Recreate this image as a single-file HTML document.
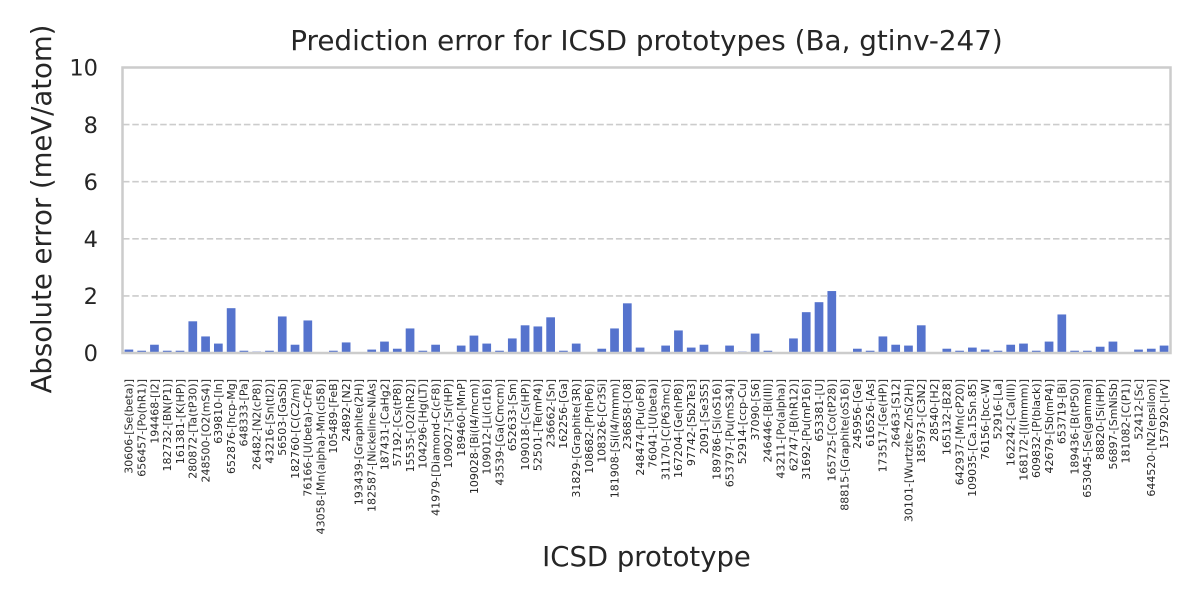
<!DOCTYPE html>
<html><head><meta charset="utf-8">
<style>
html,body{margin:0;padding:0;background:#fff;}
svg{display:block;font-family:"DejaVu Sans","Liberation Sans",sans-serif;}
.xl{font-size:11px;fill:#262626;}
.yt{font-size:22.5px;fill:#262626;}
</style></head>
<body>
<svg width="1200" height="600" viewBox="0 0 1200 600" xmlns="http://www.w3.org/2000/svg">
<rect width="1200" height="600" fill="#fff"/>
<!-- grid -->
<g stroke="#cccccc" stroke-width="1.6" stroke-dasharray="6.5 2.8" fill="none">
<line x1="123" y1="295.9" x2="1170" y2="295.9"/>
<line x1="123" y1="238.8" x2="1170" y2="238.8"/>
<line x1="123" y1="181.7" x2="1170" y2="181.7"/>
<line x1="123" y1="124.6" x2="1170" y2="124.6"/>
</g>
<!-- bars -->
<g fill="#5573cd" transform="translate(0,353) scale(1,-28.55)">
<rect x="124.54" y="0" width="8.7" height="0.12"/>
<rect x="137.32" y="0" width="8.7" height="0.08"/>
<rect x="150.10" y="0" width="8.7" height="0.29"/>
<rect x="162.88" y="0" width="8.7" height="0.08"/>
<rect x="175.66" y="0" width="8.7" height="0.08"/>
<rect x="188.44" y="0" width="8.7" height="1.11"/>
<rect x="201.22" y="0" width="8.7" height="0.58"/>
<rect x="214.00" y="0" width="8.7" height="0.33"/>
<rect x="226.78" y="0" width="8.7" height="1.57"/>
<rect x="239.56" y="0" width="8.7" height="0.08"/>
<rect x="252.34" y="0" width="8.7" height="0.05"/>
<rect x="265.12" y="0" width="8.7" height="0.08"/>
<rect x="277.90" y="0" width="8.7" height="1.28"/>
<rect x="290.68" y="0" width="8.7" height="0.29"/>
<rect x="303.46" y="0" width="8.7" height="1.14"/>
<rect x="329.02" y="0" width="8.7" height="0.08"/>
<rect x="341.80" y="0" width="8.7" height="0.37"/>
<rect x="367.36" y="0" width="8.7" height="0.12"/>
<rect x="380.14" y="0" width="8.7" height="0.40"/>
<rect x="392.92" y="0" width="8.7" height="0.15"/>
<rect x="405.70" y="0" width="8.7" height="0.86"/>
<rect x="418.48" y="0" width="8.7" height="0.08"/>
<rect x="431.26" y="0" width="8.7" height="0.29"/>
<rect x="456.82" y="0" width="8.7" height="0.26"/>
<rect x="469.60" y="0" width="8.7" height="0.61"/>
<rect x="482.38" y="0" width="8.7" height="0.33"/>
<rect x="495.16" y="0" width="8.7" height="0.08"/>
<rect x="507.94" y="0" width="8.7" height="0.51"/>
<rect x="520.72" y="0" width="8.7" height="0.97"/>
<rect x="533.50" y="0" width="8.7" height="0.93"/>
<rect x="546.28" y="0" width="8.7" height="1.25"/>
<rect x="559.06" y="0" width="8.7" height="0.08"/>
<rect x="571.84" y="0" width="8.7" height="0.33"/>
<rect x="597.40" y="0" width="8.7" height="0.15"/>
<rect x="610.18" y="0" width="8.7" height="0.86"/>
<rect x="622.96" y="0" width="8.7" height="1.74"/>
<rect x="635.74" y="0" width="8.7" height="0.19"/>
<rect x="661.30" y="0" width="8.7" height="0.26"/>
<rect x="674.08" y="0" width="8.7" height="0.79"/>
<rect x="686.86" y="0" width="8.7" height="0.19"/>
<rect x="699.64" y="0" width="8.7" height="0.29"/>
<rect x="725.20" y="0" width="8.7" height="0.26"/>
<rect x="737.98" y="0" width="8.7" height="0.05"/>
<rect x="750.76" y="0" width="8.7" height="0.68"/>
<rect x="763.54" y="0" width="8.7" height="0.08"/>
<rect x="789.10" y="0" width="8.7" height="0.51"/>
<rect x="801.88" y="0" width="8.7" height="1.43"/>
<rect x="814.66" y="0" width="8.7" height="1.78"/>
<rect x="827.44" y="0" width="8.7" height="2.17"/>
<rect x="853.00" y="0" width="8.7" height="0.15"/>
<rect x="865.78" y="0" width="8.7" height="0.08"/>
<rect x="878.56" y="0" width="8.7" height="0.58"/>
<rect x="891.34" y="0" width="8.7" height="0.29"/>
<rect x="904.12" y="0" width="8.7" height="0.26"/>
<rect x="916.90" y="0" width="8.7" height="0.97"/>
<rect x="942.46" y="0" width="8.7" height="0.15"/>
<rect x="955.24" y="0" width="8.7" height="0.08"/>
<rect x="968.02" y="0" width="8.7" height="0.19"/>
<rect x="980.80" y="0" width="8.7" height="0.12"/>
<rect x="993.58" y="0" width="8.7" height="0.08"/>
<rect x="1006.36" y="0" width="8.7" height="0.29"/>
<rect x="1019.14" y="0" width="8.7" height="0.33"/>
<rect x="1031.92" y="0" width="8.7" height="0.08"/>
<rect x="1044.70" y="0" width="8.7" height="0.40"/>
<rect x="1057.48" y="0" width="8.7" height="1.35"/>
<rect x="1070.26" y="0" width="8.7" height="0.08"/>
<rect x="1083.04" y="0" width="8.7" height="0.08"/>
<rect x="1095.82" y="0" width="8.7" height="0.22"/>
<rect x="1108.60" y="0" width="8.7" height="0.40"/>
<rect x="1134.16" y="0" width="8.7" height="0.12"/>
<rect x="1146.94" y="0" width="8.7" height="0.15"/>
<rect x="1159.72" y="0" width="8.7" height="0.26"/>
</g>
<!-- frame -->
<rect x="122.5" y="67.5" width="1048" height="285.5" fill="none" stroke="#cccccc" stroke-width="2.5"/>
<!-- y ticks -->
<g class="yt" text-anchor="end">
<text x="98" y="361">0</text>
<text x="98" y="304">2</text>
<text x="98" y="247">4</text>
<text x="98" y="190">6</text>
<text x="98" y="133">8</text>
<text x="98" y="75.5">10</text>
</g>
<!-- title & axis labels -->
<text x="646.5" y="50" text-anchor="middle" font-size="27.8" fill="#262626">Prediction error for ICSD prototypes (Ba, gtinv-247)</text>
<text x="646.5" y="566" text-anchor="middle" font-size="27.5" fill="#262626">ICSD prototype</text>
<text transform="translate(51,209) rotate(-90)" text-anchor="middle" font-size="27.5" fill="#262626">Absolute error (meV/atom)</text>
<!-- x tick labels -->
<g class="xl" text-anchor="end">
<text transform="translate(132.7,379) rotate(-90)">30606-[Se(beta)]</text>
<text transform="translate(145.5,379) rotate(-90)">656457-[Po(hR1)]</text>
<text transform="translate(158.3,379) rotate(-90)">194468-[I2]</text>
<text transform="translate(171.0,379) rotate(-90)">182732-[BN(P1)]</text>
<text transform="translate(183.8,379) rotate(-90)">161381-[K(HP)]</text>
<text transform="translate(196.6,379) rotate(-90)">280872-[Ta(tP30)]</text>
<text transform="translate(209.4,379) rotate(-90)">248500-[O2(mS4)]</text>
<text transform="translate(222.2,379) rotate(-90)">639810-[In]</text>
<text transform="translate(234.9,379) rotate(-90)">652876-[hcp-Mg]</text>
<text transform="translate(247.7,379) rotate(-90)">648333-[Pa]</text>
<text transform="translate(260.5,379) rotate(-90)">26482-[N2(cP8)]</text>
<text transform="translate(273.3,379) rotate(-90)">43216-[Sn(tI2)]</text>
<text transform="translate(286.1,379) rotate(-90)">56503-[GaSb]</text>
<text transform="translate(298.8,379) rotate(-90)">182760-[C(C2/m)]</text>
<text transform="translate(311.6,379) rotate(-90)">76166-[U(beta)-CrFe]</text>
<text transform="translate(324.4,379) rotate(-90)">43058-[Mn(alpha)-Mn(cI58)]</text>
<text transform="translate(337.2,379) rotate(-90)">105489-[FeB]</text>
<text transform="translate(350.0,379) rotate(-90)">24892-[N2]</text>
<text transform="translate(362.7,379) rotate(-90)">193439-[Graphite(2H)]</text>
<text transform="translate(375.5,379) rotate(-90)">182587-[Nickeline-NiAs]</text>
<text transform="translate(388.3,379) rotate(-90)">187431-[CaHg2]</text>
<text transform="translate(401.1,379) rotate(-90)">57192-[Cs(tP8)]</text>
<text transform="translate(413.9,379) rotate(-90)">15535-[O2(hR2)]</text>
<text transform="translate(426.6,379) rotate(-90)">104296-[Hg(LT)]</text>
<text transform="translate(439.4,379) rotate(-90)">41979-[Diamond-C(cF8)]</text>
<text transform="translate(452.2,379) rotate(-90)">109027-[Sr(HP)]</text>
<text transform="translate(465.0,379) rotate(-90)">189460-[MnP]</text>
<text transform="translate(477.8,379) rotate(-90)">109028-[Bi(I4/mcm)]</text>
<text transform="translate(490.5,379) rotate(-90)">109012-[Li(cI16)]</text>
<text transform="translate(503.3,379) rotate(-90)">43539-[Ga(Cmcm)]</text>
<text transform="translate(516.1,379) rotate(-90)">652633-[Sm]</text>
<text transform="translate(528.9,379) rotate(-90)">109018-[Cs(HP)]</text>
<text transform="translate(541.7,379) rotate(-90)">52501-[Te(mP4)]</text>
<text transform="translate(554.4,379) rotate(-90)">236662-[Sn]</text>
<text transform="translate(567.2,379) rotate(-90)">162256-[Ga]</text>
<text transform="translate(580.0,379) rotate(-90)">31829-[Graphite(3R)]</text>
<text transform="translate(592.8,379) rotate(-90)">108682-[Pr(hP6)]</text>
<text transform="translate(605.6,379) rotate(-90)">108326-[Cr3Si]</text>
<text transform="translate(618.3,379) rotate(-90)">181908-[Si(I4/mmm)]</text>
<text transform="translate(631.1,379) rotate(-90)">236858-[O8]</text>
<text transform="translate(643.9,379) rotate(-90)">248474-[Pu(oF8)]</text>
<text transform="translate(656.7,379) rotate(-90)">76041-[U(beta)]</text>
<text transform="translate(669.5,379) rotate(-90)">31170-[C(P63mc)]</text>
<text transform="translate(682.2,379) rotate(-90)">167204-[Ge(hP8)]</text>
<text transform="translate(695.0,379) rotate(-90)">97742-[Sb2Te3]</text>
<text transform="translate(707.8,379) rotate(-90)">2091-[Se3S5]</text>
<text transform="translate(720.6,379) rotate(-90)">189786-[Si(oS16)]</text>
<text transform="translate(733.4,379) rotate(-90)">653797-[Pu(mS34)]</text>
<text transform="translate(746.1,379) rotate(-90)">52914-[ccp-Cu]</text>
<text transform="translate(758.9,379) rotate(-90)">37090-[S6]</text>
<text transform="translate(771.7,379) rotate(-90)">246446-[Bi(III)]</text>
<text transform="translate(784.5,379) rotate(-90)">43211-[Po(alpha)]</text>
<text transform="translate(797.3,379) rotate(-90)">62747-[B(hR12)]</text>
<text transform="translate(810.0,379) rotate(-90)">31692-[Pu(mP16)]</text>
<text transform="translate(822.8,379) rotate(-90)">653381-[U]</text>
<text transform="translate(835.6,379) rotate(-90)">165725-[Co(tP28)]</text>
<text transform="translate(848.4,379) rotate(-90)">88815-[Graphite(oS16)]</text>
<text transform="translate(861.2,379) rotate(-90)">245956-[Ge]</text>
<text transform="translate(873.9,379) rotate(-90)">616526-[As]</text>
<text transform="translate(886.7,379) rotate(-90)">173517-[Ge(HP)]</text>
<text transform="translate(899.5,379) rotate(-90)">26463-[S12]</text>
<text transform="translate(912.3,379) rotate(-90)">30101-[Wurtzite-ZnS(2H)]</text>
<text transform="translate(925.1,379) rotate(-90)">185973-[C3N2]</text>
<text transform="translate(937.8,379) rotate(-90)">28540-[H2]</text>
<text transform="translate(950.6,379) rotate(-90)">165132-[B28]</text>
<text transform="translate(963.4,379) rotate(-90)">642937-[Mn(cP20)]</text>
<text transform="translate(976.2,379) rotate(-90)">109035-[Ca.15Sn.85]</text>
<text transform="translate(989.0,379) rotate(-90)">76156-[bcc-W]</text>
<text transform="translate(1001.7,379) rotate(-90)">52916-[La]</text>
<text transform="translate(1014.5,379) rotate(-90)">162242-[Ca(III)]</text>
<text transform="translate(1027.3,379) rotate(-90)">168172-[I(Immm)]</text>
<text transform="translate(1040.1,379) rotate(-90)">609832-[P(black)]</text>
<text transform="translate(1052.9,379) rotate(-90)">42679-[Sb(mP4)]</text>
<text transform="translate(1065.6,379) rotate(-90)">653719-[Bi]</text>
<text transform="translate(1078.4,379) rotate(-90)">189436-[B(tP50)]</text>
<text transform="translate(1091.2,379) rotate(-90)">653045-[Se(gamma)]</text>
<text transform="translate(1104.0,379) rotate(-90)">88820-[Si(HP)]</text>
<text transform="translate(1116.8,379) rotate(-90)">56897-[SmNiSb]</text>
<text transform="translate(1129.5,379) rotate(-90)">181082-[C(P1)]</text>
<text transform="translate(1142.3,379) rotate(-90)">52412-[Sc]</text>
<text transform="translate(1155.1,379) rotate(-90)">644520-[N2(epsilon)]</text>
<text transform="translate(1167.9,379) rotate(-90)">157920-[IrV]</text>
</g>
</svg>
</body></html>
